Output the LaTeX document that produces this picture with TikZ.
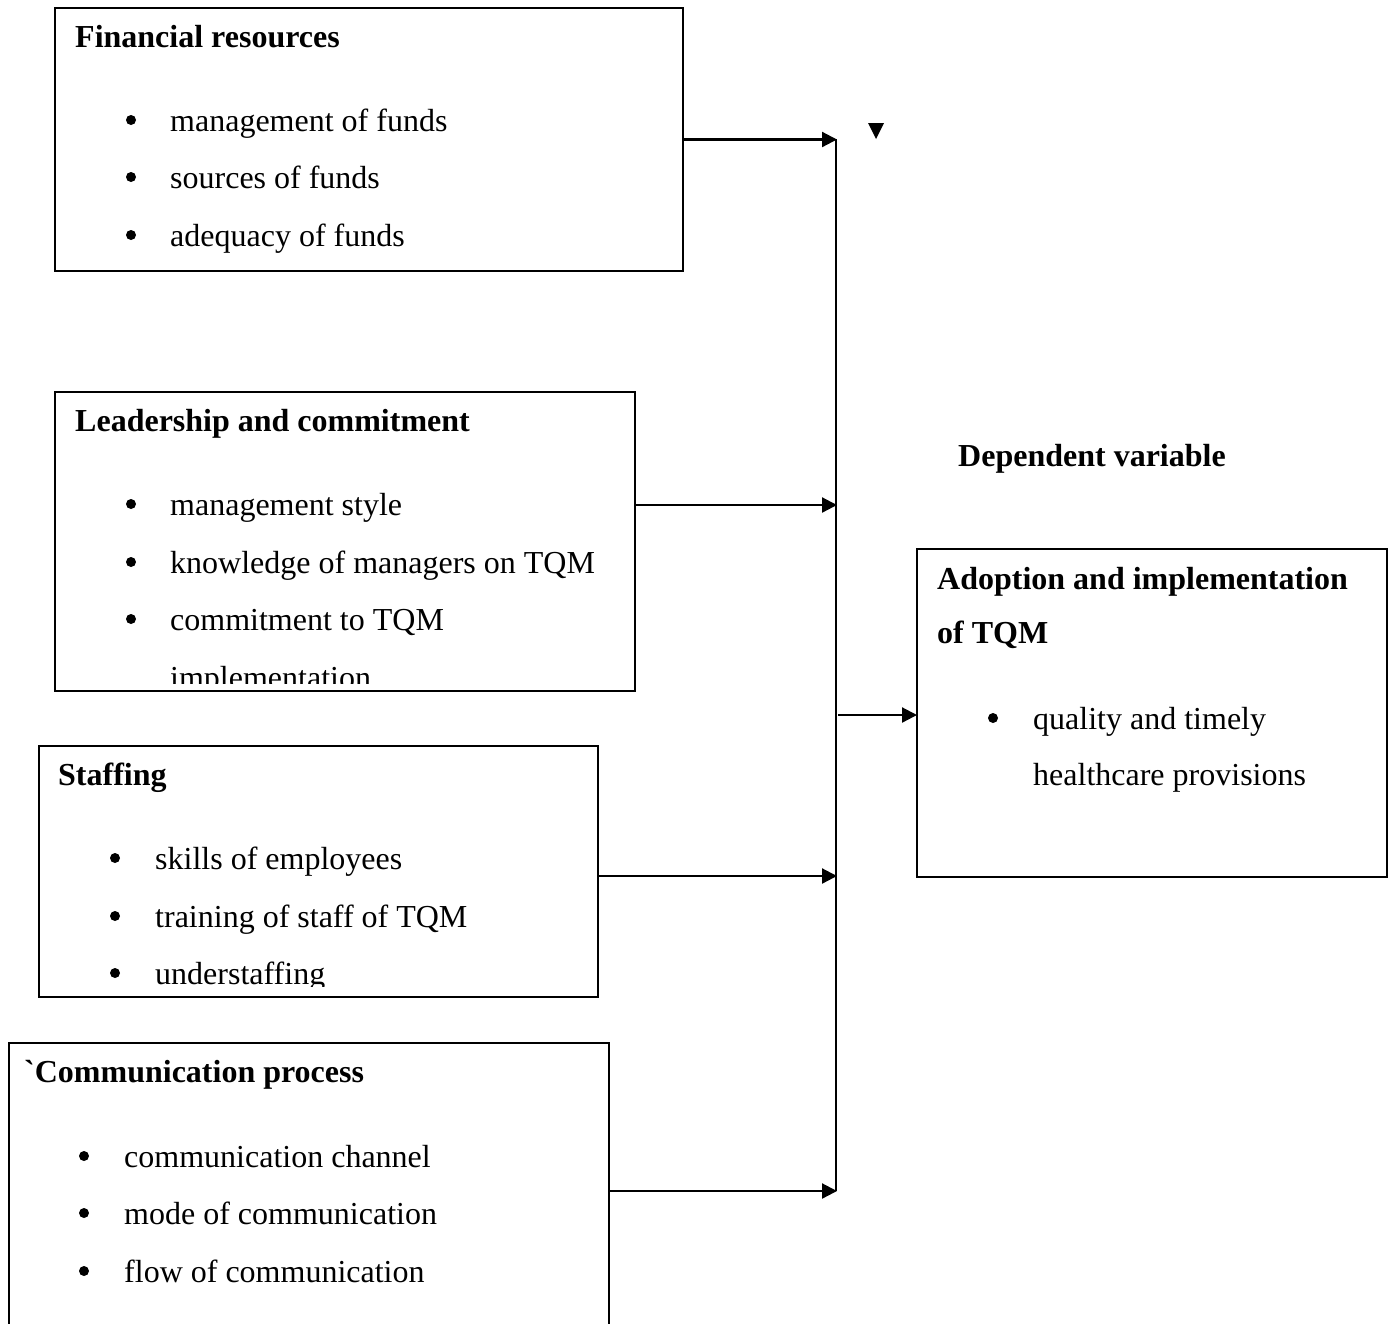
\documentclass[tikz,border=0pt]{standalone}
\usepackage{fontspec}
\setmainfont{Liberation Serif}[Ligatures=TeXOff]
\usetikzlibrary{arrows.meta}
\begin{document}
\begin{tikzpicture}[x=1pt,y=1pt,
  box/.style={draw, line width=2pt, anchor=north west, inner sep=0pt},
  txt/.style={anchor=base west, inner sep=0pt, font=\fontsize{32}{38}\selectfont},
  ttl/.style={txt, font=\fontsize{32}{38}\selectfont\bfseries},
  bul/.style={circle, fill, inner sep=0pt, minimum size=10pt},
  arr/.style={line width=2.2pt, -{Triangle[length=15pt,width=15pt]}, shorten >=-1pt}]
\useasboundingbox (0,0) rectangle (1391,-1323);
% boxes
\node[box, minimum width=628, minimum height=263] (b1) at (54,-7) {};
\node[box, minimum width=580, minimum height=299] (b2) at (54,-391) {};
\node[box, minimum width=559, minimum height=251] (b3) at (38,-745) {};
\node[box, minimum width=600, minimum height=330] (b4) at (8,-1042) {};
\node[box, minimum width=470, minimum height=328] (b5) at (916,-548) {};
% box 1
\node[ttl] (t1) at (75,-47) {Financial resources};
\node[bul] (p11) at (131,-120) {}; \node[txt] (l11) at (170,-131) {management of funds};
\node[bul] (p12) at (131,-177) {}; \node[txt] (l12) at (170,-188) {sources of funds};
\node[bul] (p13) at (131,-235) {}; \node[txt] (l13) at (170,-246) {adequacy of funds};
% box 2
\node[ttl] (t2) at (75,-431) {Leadership and commitment};
\node[bul] (p21) at (131,-504) {}; \node[txt] (l21) at (170,-515) {management style};
\node[bul] (p22) at (131,-562) {}; \node[txt] (l22) at (170,-573) {knowledge of managers on TQM};
\node[bul] (p23) at (131,-619) {}; \node[txt] (l23) at (170,-630) {commitment to TQM};
\begin{scope}
\clip (60,-600) rectangle (630,-683);
\node[txt] (l24) at (170,-688) {implementation};
\end{scope}
% box 3
\node[ttl] (t3) at (58,-785) {Staffing};
\node[bul] (p31) at (115,-858) {}; \node[txt] (l31) at (155,-869) {skills of employees};
\node[bul] (p32) at (115,-916) {}; \node[txt] (l32) at (155,-927) {training of staff of TQM};
\begin{scope}
\clip (44,-930) rectangle (592,-986);
\node[bul] (p33) at (115,-973) {}; \node[txt] (l33) at (155,-984) {understaffing};
\end{scope}
% box 4
\node[ttl] (t4) at (24,-1082) {`Communication process};
\node[bul] (p41) at (84,-1156) {}; \node[txt] (l41) at (124,-1167) {communication channel};
\node[bul] (p42) at (84,-1213) {}; \node[txt] (l42) at (124,-1224) {mode of communication};
\node[bul] (p43) at (84,-1271) {}; \node[txt] (l43) at (124,-1282) {flow of communication};
% box 5
\node[ttl] (t5a) at (937,-589) {Adoption and implementation};
\node[ttl] (t5b) at (937,-643) {of TQM};
\node[bul] (p51) at (993,-718) {}; \node[txt] (l51) at (1033,-729) {quality and timely};
\node[txt] (l52) at (1033,-785) {healthcare provisions};
% label
\node[ttl] (dv) at (958,-466) {Dependent variable};
% connectors
\coordinate (vtop) at (836,-139);
\coordinate (vbot) at (836,-1191);
\coordinate (vmid) at (838,-715);
\draw[line width=2pt] (vtop) -- (vbot);
\draw[arr] (b1.east) -- (b1.east -| vtop);
\coordinate (s2) at (634,-505);
\draw[arr] (s2) -- (s2 -| vtop);
\coordinate (s3) at (597,-876);
\draw[arr] (s3) -- (s3 -| vtop);
\coordinate (s4) at (608,-1191);
\draw[arr] (s4) -- (vbot);
\draw[arr] (vmid) -- (vmid -| b5.west);
% stray arrowhead
\coordinate (tri) at (876,-139);
\fill (tri) -- ++(-8,16) -- ++(16,0) -- cycle;
\end{tikzpicture}
\end{document}
